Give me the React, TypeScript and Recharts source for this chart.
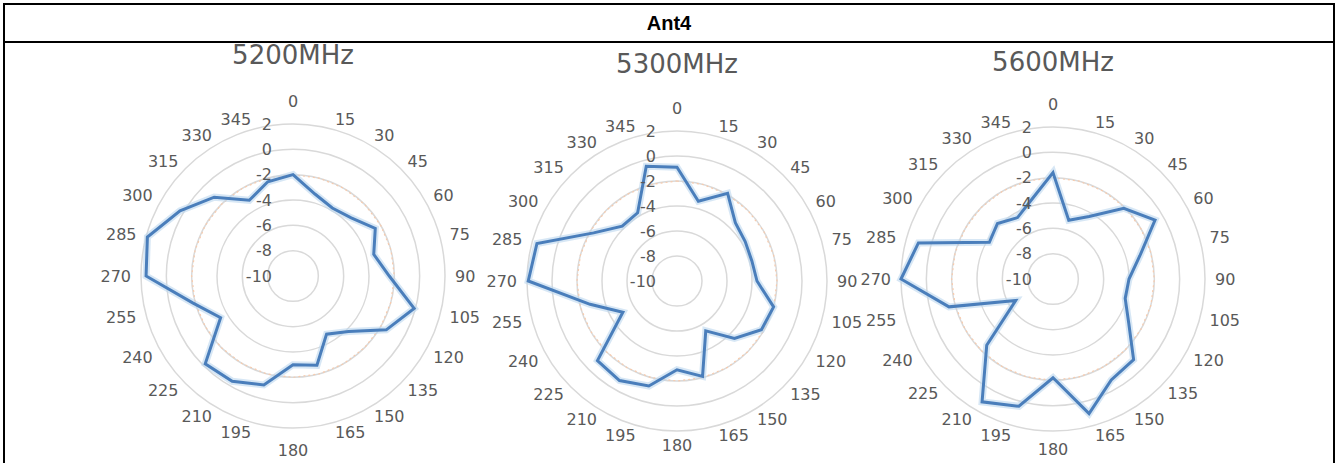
import React from 'react';
import { RadarChart, Radar, PolarGrid, PolarAngleAxis, PolarRadiusAxis } from 'recharts';

const angles = [0, 15, 30, 45, 60, 75, 90, 105, 120, 135, 150, 165, 180, 195, 210, 225, 240, 255, 270, 285, 300, 315, 330, 345];
const radiusTicks = [-10, -8, -6, -4, -2, 0, 2];

const gain5200 = [-2.0, -3.3, -3.8, -3.5, -2.5, -3.4, -2.4, -0.1, -1.5, -3.8, -4.7, -2.7, -3.0, -1.1, -0.4, -0.2, -3.4, -1.8, 1.6, 1.9, 0.3, -1.2, -3.1, -2.3];
const gain5300 = [-0.9, -3.4, -1.9, -3.4, -3.7, -3.8, -3.6, -2.0, -2.2, -3.5, -5.4, -2.1, -2.9, -1.3, -0.8, -1.0, -5.0, -2.8, 1.9, 1.6, -2.3, -3.8, -3.7, -0.5];
const gain5600 = [-1.6, -5.2, -4.3, -2.1, -0.7, -2.9, -4.0, -4.1, -3.1, -1.0, -0.8, 1.0, -2.2, 0.4, 1.2, -2.6, -6.6, -1.5, 2.0, 1.0, -4.2, -3.8, -4.4, -3.5];
// faint orange reference ring
const refLine = [-2, -2, -2, -2, -2, -2, -2, -2, -2, -2, -2, -2, -2, -2, -2, -2, -2, -2, -2, -2, -2, -2, -2, -2];

const W = 440;
const H = 463;
const FONT = '"DejaVu Sans", sans-serif';
const GREY = '#595959';

// excel-like label placement: side labels hang off a point just outside the ring
const angleTick = (cx: number, cy: number, r: number, bottomPad: number) => (props: any) => {
  const deg = Number(props.payload.value);
  const t = (deg * Math.PI) / 180;
  const s = Math.sin(t);
  const c = Math.cos(t);
  const D = r + 10;
  let x = cx + D * s;
  let y = cy - D * c;
  let anchor = 'middle';
  if (s > 0.01) {
    anchor = 'start';
  } else if (s < -0.01) {
    anchor = 'end';
  } else {
    y = c > 0 ? cy - (D + 13) : cy + D + bottomPad;
  }
  return (
    <text x={x} y={y} textAnchor={anchor} dominantBaseline='central' fontSize={16} fill={GREY} fontFamily={FONT}>
      {deg}
    </text>
  );
};

const radiusTick = (props: any) => (
  <text x={props.x - 21} y={props.y} textAnchor='end' dominantBaseline='central' fontSize={16} fill={GREY} fontFamily={FONT}>
    {props.payload.value}
  </text>
);

type PanelProps = { title: string; values: number[]; cx: number; cy: number; r: number; titleY: number; bottomPad: number };

const Panel = ({ title, values, cx, cy, r, titleY, bottomPad }: PanelProps) => {
  const data = angles.map((a, i) => ({ angle: a, gain: values[i], ref: refLine[i] }));
  const localCx = W / 2;
  return (
    <>
      <div
        style={{
          position: 'absolute',
          left: cx - 120,
          top: titleY - 15,
          width: 240,
          lineHeight: '30px',
          textAlign: 'center',
          fontFamily: FONT,
          fontSize: 26,
          color: GREY,
        }}
      >
        {title}
      </div>
      <div style={{ position: 'absolute', left: cx - localCx, top: 0 }}>
        <RadarChart width={W} height={H} cx={localCx} cy={cy} outerRadius={r} data={data} margin={{ top: 0, right: 0, bottom: 0, left: 0 }}>
          <PolarGrid gridType='circle' radialLines={false} stroke='#D9D9D9' strokeWidth={1.5} />
          <PolarAngleAxis dataKey='angle' tick={angleTick(localCx, cy, r, bottomPad)} tickLine={false} axisLine={false} />
          <PolarRadiusAxis angle={90} domain={[-10, 2]} ticks={radiusTicks} tickCount={7} tick={radiusTick} axisLine={false} tickLine={false} />
          <Radar dataKey='ref' stroke='#F8CBAD' strokeWidth={1.2} strokeDasharray='2 3' fill='none' isAnimationActive={false} />
          <Radar dataKey='gain' stroke='#BDD7EE' strokeWidth={7} strokeOpacity={0.6} fill='none' isAnimationActive={false} />
          <Radar dataKey='gain' stroke='#4A7EBB' strokeWidth={3} fill='none' isAnimationActive={false} />
        </RadarChart>
      </div>
    </>
  );
};

const App = () => {
  return (
    <div style={{ position: 'absolute', left: 0, top: 0, width: 1338, height: H, overflow: 'hidden', background: '#fff' }}>
      <div
        style={{
          position: 'absolute',
          left: 3,
          top: 3,
          width: 1332,
          height: 480,
          border: '2px solid #000',
          borderBottom: 'none',
          boxSizing: 'border-box',
        }}
      />
      <div style={{ position: 'absolute', left: 3, top: 41, width: 1332, height: 2, background: '#000' }} />
      <div
        style={{
          position: 'absolute',
          left: 3,
          top: 5,
          width: 1332,
          height: 36,
          lineHeight: '36px',
          textAlign: 'center',
          fontFamily: '"Liberation Sans", Arial, sans-serif',
          fontWeight: 'bold',
          fontSize: 20,
          color: '#000',
        }}
      >
        Ant4
      </div>
      <Panel title='5200MHz' values={gain5200} cx={293} cy={276} r={152} titleY={55} bottomPad={12} />
      <Panel title='5300MHz' values={gain5300} cx={677} cy={281} r={150} titleY={64} bottomPad={4} />
      <Panel title='5600MHz' values={gain5600} cx={1053} cy={279} r={152} titleY={62} bottomPad={8} />
    </div>
  );
};

export default App;
